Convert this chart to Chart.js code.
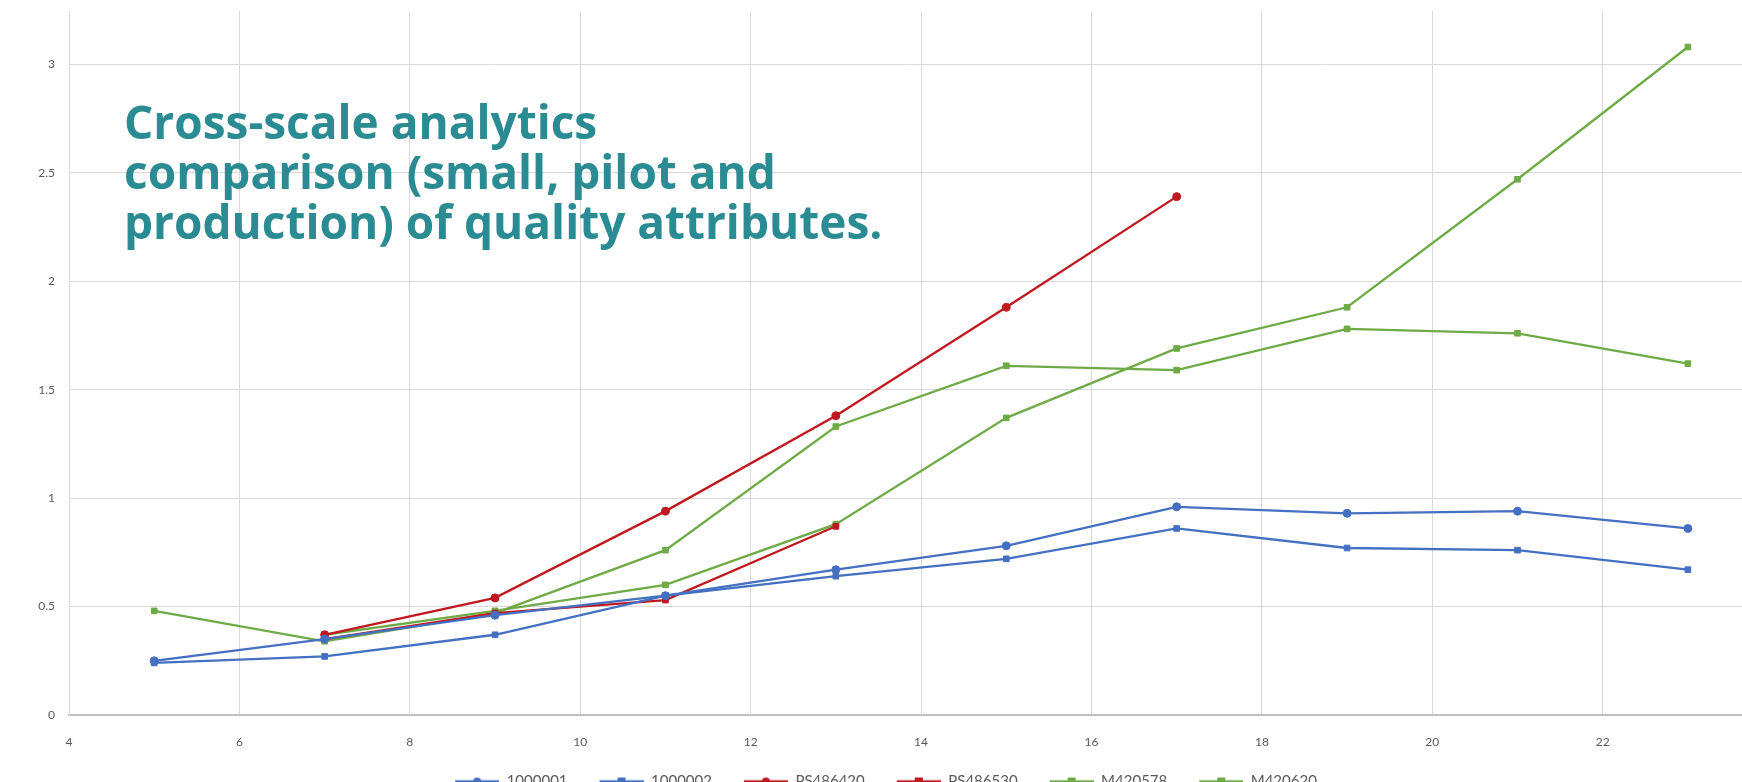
<!DOCTYPE html>
<html>
<head>
<meta charset="utf-8">
<script src="https://cdn.jsdelivr.net/npm/chart.js@4/dist/chart.umd.min.js"></script>
<style>
  html, body { margin: 0; padding: 0; background: #ffffff; overflow: hidden; }
  #wrap { position: relative; width: 1742px; height: 782px; overflow: hidden; }
  #c { position: absolute; left: 0; top: -10px; }
  #note {
    position: absolute; left: 124px; top: 96px;
    font-family: "Open Sans", Lato, sans-serif; font-weight: 700;
    font-size: 46px; line-height: 50px; color: #2a8b93; white-space: nowrap;
  }
</style>
</head>
<body>
<div id="wrap">
  <canvas id="c" width="1750" height="813"></canvas>
  <div id="note">Cross-scale analytics<br>comparison (small, pilot and<br>production) of quality attributes.</div>
</div>
<script>
// ---- data ----
const xValues = [5, 7, 9, 11, 13, 15, 17, 19, 21, 23];
const seriesNames = ["1000001", "1000002", "PS486420", "PS486530", "M420578", "M420620"];
const s1000001 = [0.25, 0.35, 0.46, 0.55, 0.67, 0.78, 0.96, 0.93, 0.94, 0.86];
const s1000002 = [0.24, 0.27, 0.37, 0.55, 0.64, 0.72, 0.86, 0.77, 0.76, 0.67];
const sPS486420 = [null, 0.37, 0.54, 0.94, 1.38, 1.88, 2.39, null, null, null];
const sPS486530 = [null, 0.35, 0.47, 0.53, 0.87, null, null, null, null, null];
const sM420578 = [0.48, 0.34, 0.47, 0.76, 1.33, 1.61, 1.59, 1.78, 1.76, 1.62];
const sM420620 = [null, 0.37, 0.48, 0.60, 0.88, 1.37, 1.69, 1.88, 2.47, 3.08];
const xTicks = [4, 6, 8, 10, 12, 14, 16, 18, 20, 22];
const yTicks = [0, 0.5, 1, 1.5, 2, 2.5, 3];

const blue = "#4470c2", red = "#c0181f", green = "#6eab47";
function pts(vals) {
  return xValues.map((x, i) => ({ x: x, y: vals[i] })).filter(p => p.y !== null);
}
function icon(color, style) {
  const c = document.createElement("canvas");
  c.width = 66; c.height = 10;
  const g = c.getContext("2d");
  g.strokeStyle = color; g.lineWidth = 2.5;
  g.beginPath(); g.moveTo(22, 5); g.lineTo(66, 5); g.stroke();
  g.fillStyle = color;
  if (style === "circle") { g.beginPath(); g.arc(44, 5, 4, 0, Math.PI * 2); g.fill(); }
  else { g.fillRect(40, 1, 8, 8); }
  return c;
}
function ds(label, vals, color, style) {
  return {
    label: label, data: pts(vals), borderColor: color, backgroundColor: color,
    borderWidth: 2.3, pointRadius: 4, pointStyle: style, pointBorderWidth: 1,
    pointBorderColor: color, tension: 0, showLine: true, _icon: icon(color, style)
  };
}
const datasets = [
  ds(seriesNames[0], s1000001, blue, "circle"),
  ds(seriesNames[1], s1000002, blue, "rect"),
  ds(seriesNames[2], sPS486420, red, "circle"),
  ds(seriesNames[3], sPS486530, red, "rect"),
  ds(seriesNames[4], sM420578, green, "rect"),
  ds(seriesNames[5], sM420620, green, "rect")
];

new Chart(document.getElementById("c"), {
  type: "scatter",
  data: { datasets: datasets },
  options: {
    responsive: false, animation: false, devicePixelRatio: 1,
    layout: { padding: { left: 0, right: 0, top: 0, bottom: 4 } },
    plugins: {
      tooltip: { enabled: false },
      legend: {
        position: "bottom",
        labels: {
          font: { family: "Lato, sans-serif", size: 15 }, color: "#595959",
          usePointStyle: true, pointStyleWidth: 66, boxHeight: 10, padding: 10,
          generateLabels: chart => {
            const base = Chart.defaults.plugins.legend.labels.generateLabels(chart);
            return base.map(l => Object.assign(l, { pointStyle: chart.data.datasets[l.datasetIndex]._icon }));
          }
        }
      }
    },
    scales: {
      x: {
        type: "linear", min: 4, max: 23.67,
        afterBuildTicks: s => { s.ticks = xTicks.map(v => ({ value: v })); },
        afterFit: s => { s.height = 49; },
        grid: { color: "#d9d9d9", lineWidth: 1, drawTicks: false },
        border: { color: "#bfbfbf", width: 2 },
        ticks: { padding: 20, color: "#595959", font: { family: "Lato, sans-serif", size: 12 } }
      },
      y: {
        type: "linear", min: 0, max: 3.245,
        afterBuildTicks: s => { s.ticks = yTicks.map(v => ({ value: v })); },
        afterFit: s => { s.width = 69; },
        grid: { color: "#d9d9d9", lineWidth: 1, drawTicks: false },
        border: { color: "#d9d9d9", width: 1 },
        ticks: { padding: 14, color: "#595959", font: { family: "Lato, sans-serif", size: 12 },
                 callback: v => String(v) }
      }
    }
  }
});
</script>
</body>
</html>
